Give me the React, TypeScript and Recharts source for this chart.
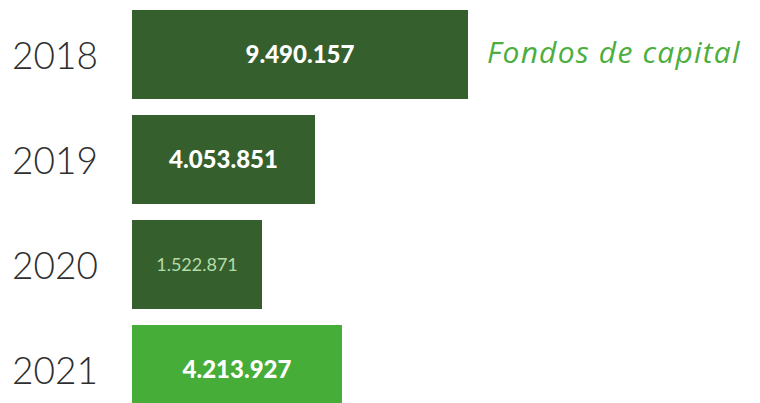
import { Bar, BarChart, Cell, LabelList, XAxis, YAxis } from "recharts";

// years shown on the left
const years = ["2018", "2019", "2020", "2021"];
// printed figures inside each bar
const valueLabels = ["9.490.157", "4.053.851", "1.522.871", "4.213.927"];
// bar extent as drawn in the infographic (not to scale with the figures)
const barLengths = [336, 183, 130, 210];
const barColors = ["#365f2e", "#365f2e", "#365f2e", "#46ad38"];
const seriesTitle = "Fondos de capital";

const chartData = years.map((year, i) => ({
  year,
  length: barLengths[i],
  label: valueLabels[i],
}));

const YearTick = (props: any) => {
  const { y, payload } = props;
  return (
    <text x={12} y={y} dy={14} fontSize={37} fontFamily="Lato" fontWeight={300} fill="#2e2e2e" textAnchor="start">
      {payload.value}
    </text>
  );
};

const ValueLabel = (props: any) => {
  const { x, y, width, height, value, index } = props;
  const thin = index === 2;
  return (
    <text
      x={x + width / 2}
      y={y + height / 2}
      dy={thin ? 6 : 8}
      textAnchor="middle"
      fontFamily="Lato"
      fontWeight={thin ? 400 : 900}
      fontSize={thin ? 18 : 24}
      fill={thin ? "#b4dca9" : "#ffffff"}
    >
      {value}
    </text>
  );
};

export default function App() {
  return (
    <div style={{ position: "absolute", left: 0, top: 0, width: 760, height: 403, overflow: "hidden", background: "#fff" }}>
      <BarChart
        layout="vertical"
        width={760}
        height={422}
        data={chartData}
        margin={{ top: 2, right: 0, bottom: 0, left: 0 }}
        barCategoryGap={8}
      >
        <XAxis type="number" hide domain={[0, 628]} />
        <YAxis
          type="category"
          dataKey="year"
          width={132}
          axisLine={false}
          tickLine={false}
          tick={<YearTick />}
        />
        <Bar dataKey="length" isAnimationActive={false}>
          {chartData.map((d, i) => (
            <Cell key={d.year} fill={barColors[i]} />
          ))}
          <LabelList dataKey="label" content={<ValueLabel />} />
        </Bar>
      </BarChart>
      <span
        style={{
          position: "absolute",
          left: 487,
          top: 31,
          fontFamily: "Open Sans",
          fontStyle: "italic",
          fontWeight: 400,
          fontSize: 30,
          letterSpacing: 1.2,
          color: "#4cae3e",
          whiteSpace: "nowrap",
        }}
      >
        {seriesTitle}
      </span>
    </div>
  );
}
